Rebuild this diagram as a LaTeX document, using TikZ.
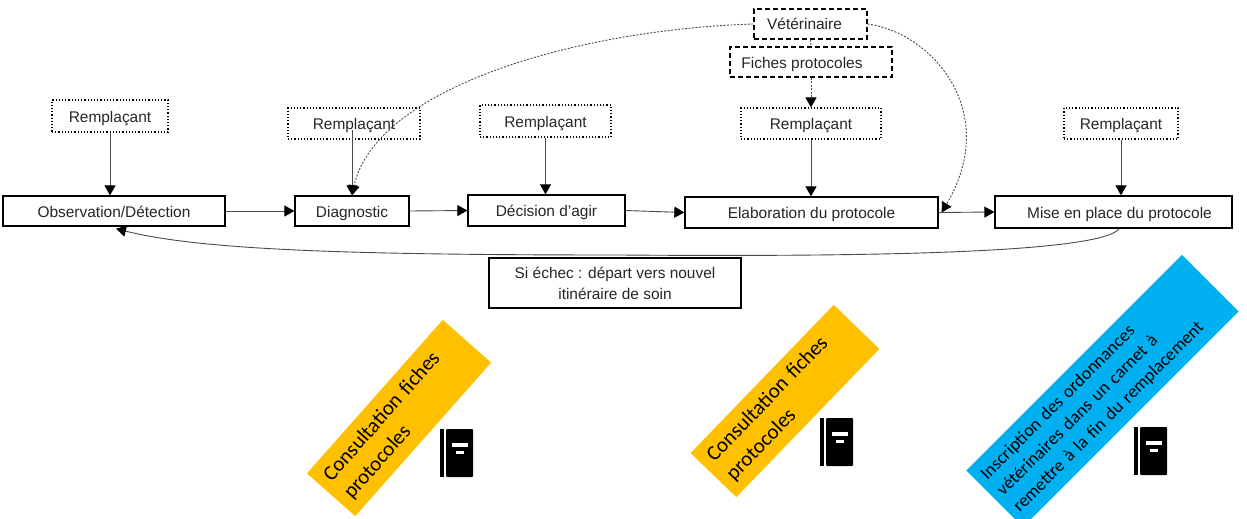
\documentclass[tikz,border=0pt]{standalone}
\usepackage{fontspec}
\setmainfont{Liberation Sans}
\newfontfamily\bandfont{Carlito}
\usetikzlibrary{arrows.meta,calc}
\definecolor{inkline}{HTML}{4A4A4A}
\tikzset{
  x=1pt,y=-1pt,
  lblbase/.style={font=\fontsize{15.45}{21}\selectfont,text=black!85,inner sep=0pt,align=center},
  lbl/.style={lblbase,text height=14pt,text depth=2pt},
  proc/.style={lbl,draw=black,line width=1.3pt,fill=white},
  roleA/.style={lbl,draw=black,line width=1.2pt,dotted},
  roleB/.style={lbl,draw=black,line width=1.3pt,dash pattern=on 5pt off 3pt},
  flow/.style={draw=inkline,line width=0.9pt,-{Triangle[length=10pt,width=11pt,fill=black,color=black]}},
  dflow/.style={flow,dash pattern=on 2pt off 1.5pt},
  band/.style={font=\bandfont\fontsize{21}{27}\selectfont,inner xsep=10pt,inner ysep=0pt,align=left,text=black},
  pics/bookicon/.style={code={
    \fill[black] (-16.5,-24) rectangle (-12.5,24);
    \fill[black,rounded corners=1pt] (-10.5,-24) rectangle (16.5,24);
    \fill[white] (-5,-10) rectangle (11,-6);
    \fill[white] (-1,-2) rectangle (7,1);
  }}
}
\begin{document}
\begin{tikzpicture}
\useasboundingbox (0,0) rectangle (1247,519);
\clip (0,0) rectangle (1247,519);
% process row
\node[proc,minimum width=222pt,minimum height=30pt] (obs) at (114,211) {Observation/Détection};
\node[proc,minimum width=114pt,minimum height=30pt] (diag) at (352,211) {Diagnostic};
\node[proc,minimum width=157pt,minimum height=31pt] (dec) at (546.5,210.5) {Décision d’agir};
\node[proc,minimum width=253pt,minimum height=31pt] (elab) at (811.5,212.5) {Elaboration du protocole};
\node[proc,minimum width=237pt,minimum height=32pt] (mise) at (1113.5,212) {\hspace*{12pt}Mise en place du protocole};
\node[lblbase,draw=black,line width=1.3pt,fill=white,minimum width=252pt,minimum height=50pt] (si) at (615,283) {Si échec : départ vers nouvel\\itinéraire de soin};
% actors
\node[roleA,minimum width=116pt,minimum height=32pt] (r1) at (110,116) {Remplaçant};
\node[roleA,minimum width=132pt,minimum height=31pt] (r2) at (354,123.5) {Remplaçant};
\node[roleA,minimum width=131pt,minimum height=32pt] (r3) at (545.5,121) {Remplaçant};
\node[roleA,minimum width=140pt,minimum height=31pt] (r4) at (811,123.5) {Remplaçant};
\node[roleA,minimum width=114pt,minimum height=31pt] (r5) at (1121,123.5) {Remplaçant};
\node[roleB,minimum width=113pt,minimum height=30pt] (vet) at (810.5,24) {Vétérinaire\hspace*{12pt}};
\node[roleB,minimum width=162pt,minimum height=30pt] (fiches) at (811,62) {Fiches protocoles\hspace*{18pt}};
% connectors
\draw[flow] (obs.east) -- (diag.west);
\draw[flow] (diag.east) -- (dec.west);
\draw[flow] (dec.east) -- (elab.west);
\draw[flow] (elab.east) -- (mise.west);
\draw[flow] (r1.south) -- (r1.south |- obs.north);
\draw[flow] ($(diag.north)+(0,-65)$) -- (diag.north);
\draw[flow] (r3.south) -- (r3.south |- dec.north);
\draw[flow] (r4.south) -- (r4.south |- elab.north);
\draw[flow] (r5.south) -- (r5.south |- mise.north);
\draw[flow] ($(mise.south)+(6,0)$) .. controls +(-20,24) and +(260,2) .. (620,255)
   .. controls (350,255) and (200,250) .. ($(obs.south)+(2,2)$);
\draw[dflow] (vet.west) .. controls (570,30) and (375,90) .. (diag.north);
\draw[dflow] (vet.east) .. controls (930,32) and (1002,110) .. ($(elab.east)+(3,0)$);
\draw[dflow,-] (vet.south) -- (fiches.north);
\draw[dflow] (fiches.south) -- (r4.north);
% coloured bands
\node[band,fill={rgb,255:red,255;green,192;blue,0},rotate=48.5,minimum width=205pt,minimum height=64.5pt,text width=185pt] (y1) at (399,418) {Consultation fiches\\protocoles};
\node[band,fill={rgb,255:red,255;green,192;blue,0},rotate=46,minimum width=206pt,minimum height=63.5pt,text width=186pt] (y2) at (785,401) {Consultation fiches\\protocoles};
\node[band,fill={rgb,255:red,0;green,176;blue,240},rotate=45,minimum width=305pt,minimum height=80pt,text width=289pt,inner xsep=8pt,font=\bandfont\fontsize{18}{23}\selectfont] (b1) at (1102.5,391) {Inscription des ordonnances\\vétérinaires dans un carnet à\\remettre à la fin du remplacement};
% icons
\pic at (456.5,453) {bookicon};
\pic at (836.5,442) {bookicon};
\pic at (1150.5,451) {bookicon};
\end{tikzpicture}
\end{document}
